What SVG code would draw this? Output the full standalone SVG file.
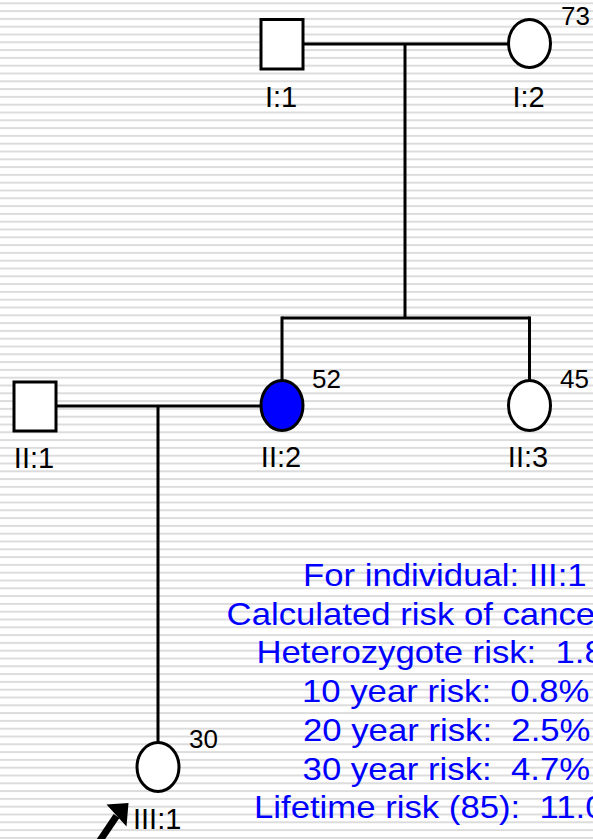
<svg xmlns="http://www.w3.org/2000/svg" width="593" height="839" viewBox="0 0 593 839">
  <defs>
    <pattern id="stripes" patternUnits="userSpaceOnUse" x="0" y="2.3" width="593" height="7.8">
      <rect x="0" y="0" width="593" height="2" fill="#dcdcdc"/>
    </pattern>
    <style>
      .ln { stroke: #000; stroke-width: 3; fill: none; }
      .sym { stroke: #000; stroke-width: 3; fill: #fff; }
      .aff { fill: #0000ff; }
      .lbl { font-family: "Liberation Sans", Arial, sans-serif; font-size: 29px; fill: #000; text-anchor: middle; }
      .age { font-family: "Liberation Sans", Arial, sans-serif; font-size: 26px; fill: #000; }
      .info { font-family: "Liberation Sans", Arial, sans-serif; font-size: 31px; fill: #0000ff; white-space: pre; }
    </style>
  </defs>
  <rect x="0" y="0" width="593" height="839" fill="#fff"/>
  <rect x="0" y="0" width="593" height="839" fill="url(#stripes)"/>

  <g id="connectors">
    <line class="ln" x1="303" y1="44" x2="508" y2="44"/>
    <line class="ln" x1="405" y1="44" x2="405" y2="318"/>
    <line class="ln" x1="282" y1="318" x2="529.5" y2="318"/>
    <line class="ln" x1="282" y1="316.5" x2="282" y2="380"/>
    <line class="ln" x1="529.5" y1="316.5" x2="529.5" y2="380"/>
    <line class="ln" x1="56" y1="406" x2="261" y2="406"/>
    <line class="ln" x1="158" y1="406" x2="158" y2="743"/>
  </g>

  <g id="I1">
    <rect class="sym" x="261" y="19.5" width="42" height="49.5"/>
    <text class="lbl" x="281" y="107">I:1</text>
  </g>
  <g id="I2">
    <ellipse class="sym" cx="529.5" cy="43.5" rx="21" ry="24"/>
    <text class="lbl" x="528.5" y="107">I:2</text>
    <text class="age" x="561" y="25">73</text>
  </g>
  <g id="II1">
    <rect class="sym" x="14" y="382" width="42" height="49"/>
    <text class="lbl" x="34" y="468">II:1</text>
  </g>
  <g id="II2">
    <ellipse class="sym aff" cx="282" cy="405.5" rx="21" ry="25"/>
    <text class="lbl" x="281" y="467">II:2</text>
    <text class="age" x="312" y="388">52</text>
  </g>
  <g id="II3">
    <ellipse class="sym" cx="529.5" cy="405.5" rx="21" ry="25"/>
    <text class="lbl" x="528" y="467">II:3</text>
    <text class="age" x="560" y="388">45</text>
  </g>
  <g id="III1">
    <ellipse class="sym" cx="158" cy="767" rx="21" ry="24.5"/>
    <text class="lbl" x="133" y="829" style="text-anchor:start">III:1</text>
    <text class="age" x="189" y="748">30</text>
    <line x1="116.5" y1="816" x2="99" y2="842" stroke="#000" stroke-width="7"/>
    <polygon points="106.5,804.5 128.5,803 126.5,826.5" fill="#000"/>
  </g>

  <g id="risk-info">
    <text class="info" xml:space="preserve" transform="translate(303,586) scale(1.12,1)">For individual: III:1</text>
    <text class="info" xml:space="preserve" transform="translate(226.6,624.7) scale(1.12,1)">Calculated risk of cancer:</text>
    <text class="info" xml:space="preserve" transform="translate(256.5,663.4) scale(1.12,1)">Heterozygote risk:  1.8%</text>
    <text class="info" xml:space="preserve" transform="translate(302,702.1) scale(1.12,1)">10 year risk:  0.8%</text>
    <text class="info" xml:space="preserve" transform="translate(303,740.8) scale(1.12,1)">20 year risk:  2.5%</text>
    <text class="info" xml:space="preserve" transform="translate(302.6,779.5) scale(1.12,1)">30 year risk:  4.7%</text>
    <text class="info" xml:space="preserve" transform="translate(254,818.2) scale(1.12,1)">Lifetime risk (85):  11.0%</text>
  </g>
</svg>
